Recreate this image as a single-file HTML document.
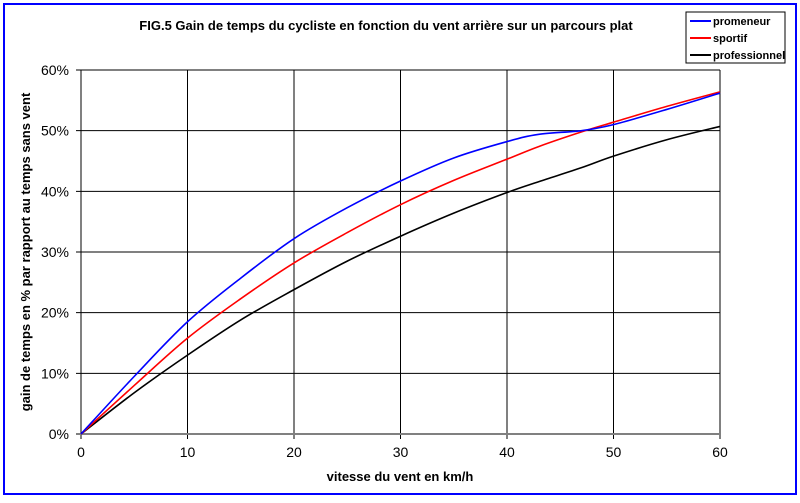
<!DOCTYPE html>
<html><head><meta charset="utf-8"><style>
body{margin:0;background:#fff;}
svg text{font-family:"Liberation Sans",Arial,sans-serif;}
</style></head><body>
<svg id="chart" width="800" height="498">
<rect x="4" y="4" width="792" height="490" fill="#fff" stroke="#0000ff" stroke-width="2"/>
<text x="386" y="30" text-anchor="middle" font-size="13" font-weight="bold">FIG.5  Gain de temps du cycliste en fonction du vent arrière sur un parcours plat</text>
<g id="grid"></g><g id="series"></g>
<text x="400" y="481" text-anchor="middle" font-size="13" font-weight="bold">vitesse du vent en km/h</text>
<text transform="translate(30,252) rotate(-90)" text-anchor="middle" font-size="13" font-weight="bold">gain de temps en % par rapport au temps sans vent</text>
<g>
<rect x="686" y="12" width="99" height="51" fill="#fff" stroke="#000" stroke-width="1"/>
<line x1="690" y1="21" x2="711" y2="21" stroke="#0000ff" stroke-width="2"/><text x="713" y="25" font-size="11" font-weight="bold">promeneur</text>
<line x1="690" y1="38" x2="711" y2="38" stroke="#ff0000" stroke-width="2"/><text x="713" y="42" font-size="11" font-weight="bold">sportif</text>
<line x1="690" y1="55" x2="711" y2="55" stroke="#000" stroke-width="2"/><text x="713" y="59" font-size="11" font-weight="bold">professionnel</text>
</g>
</svg>
<script>
const xTicks=[0,10,20,30,40,50,60];
const yTicks=[0,10,20,30,40,50,60];
const windSpeeds=[0,5,10,15,20,25,30,35,40,43,47,50,55,60];
const promeneur=[0,9.5,18.5,25.7,32.2,37.3,41.7,45.5,48.2,49.4,50,51,53.5,56.2];
const sportif=[0,8,15.8,22.3,28.2,33.2,37.8,41.8,45.3,47.4,49.8,51.4,54,56.4];
const professionnel=[0,6.8,13,18.8,23.8,28.5,32.6,36.4,39.8,41.6,43.9,45.8,48.5,50.7];
const X0=81,X1=720,Y0=434,Y1=70;
const sx=v=>X0+(v-0)/60*(X1-X0);
const sy=v=>Y0-(v/60)*(Y0-Y1);
const NS="http://www.w3.org/2000/svg";
const grid=document.getElementById('grid'),ser=document.getElementById('series');
function mk(t,a,p){const e=document.createElementNS(NS,t);for(const k in a)e.setAttribute(k,a[k]);p.appendChild(e);return e;}
xTicks.forEach(t=>{
 const l=mk('line',{x1:sx(t),x2:sx(t),y1:Y1,y2:Y0+5,stroke:'#000','stroke-width':1},grid);
 
 
 const tx=mk('text',{x:sx(t),y:Y0+23,'text-anchor':'middle','font-size':14},grid);tx.textContent=t;
 
 
});
yTicks.forEach(t=>{
 const l=mk('line',{x1:X0-5,x2:X1,y1:sy(t),y2:sy(t),stroke:t===0?'#808080':'#000','stroke-width':t===0?2:1},grid);
 
 
 const tx=mk('text',{x:X0-12,y:sy(t)+5,'text-anchor':'end','font-size':14},grid);tx.textContent=t+'%';
 
 
});
function smoothPath(d){
 const pts=d.map((v,i)=>[sx(windSpeeds[i]),sy(v)]);
 let s='M'+pts[0][0]+','+pts[0][1];
 for(let i=0;i<pts.length-1;i++){
  const p0=pts[Math.max(0,i-1)],p1=pts[i],p2=pts[i+1],p3=pts[Math.min(pts.length-1,i+2)];
  const c1=[p1[0]+(p2[0]-p0[0])/6,p1[1]+(p2[1]-p0[1])/6];
  const c2=[p2[0]-(p3[0]-p1[0])/6,p2[1]-(p3[1]-p1[1])/6];
  s+=' C'+c1+' '+c2+' '+p2;
 }
 return s;
}
[[professionnel,'#000','line-professionnel'],[sportif,'#ff0000','line-sportif'],[promeneur,'#0000ff','line-promeneur']].forEach(([d,c,n])=>{
 const p=mk('path',{d:smoothPath(d),fill:'none',stroke:c,'stroke-width':1.6,'stroke-linejoin':'round'},ser);
 
 
});
</script>
</body></html>
